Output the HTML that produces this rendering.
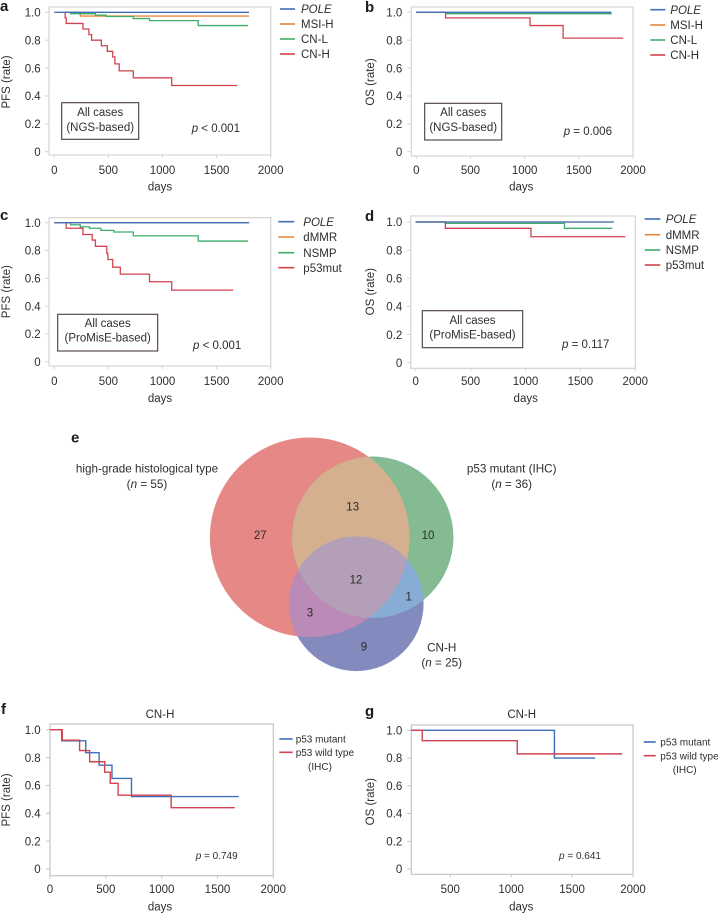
<!DOCTYPE html>
<html lang="en">
<head>
<meta charset="utf-8">
<title>Survival curves and Venn diagram</title>
<style>
html,body{margin:0;padding:0;background:#fff;}
svg{display:block;font-family:"Liberation Sans",Arial,sans-serif;}
</style>
</head>
<body>
<svg id="figure" xmlns="http://www.w3.org/2000/svg" width="718" height="914" viewBox="0 0 718 914">
  <defs id="venn-defs"></defs>
  <g id="panel-a"></g>
  <g id="panel-b"></g>
  <g id="panel-c"></g>
  <g id="panel-d"></g>
  <g id="panel-e"></g>
  <g id="panel-f"></g>
  <g id="panel-g"></g>
</svg>
<script>
// ---- Data: days at which the curve changes (last = end of follow-up), rate after each change ----
const aPoleDays = [0, 1800];
const aPoleRate = [1, 1];
const aMsiDays = [100, 240, 1800];
const aMsiRate = [1, 0.973, 0.973];
const aCnlDays = [100, 150, 380, 480, 730, 880, 1330, 1790];
const aCnlRate = [1, 0.99, 0.98, 0.97, 0.955, 0.94, 0.905, 0.905];
const aCnhDays = [90, 100, 110, 265, 320, 345, 435, 490, 540, 560, 600, 730, 1085, 1690];
const aCnhRate = [1, 0.96, 0.92, 0.88, 0.84, 0.80, 0.76, 0.72, 0.68, 0.63, 0.58, 0.53, 0.475, 0.475];

const bPoleDays = [0, 1800];
const bPoleRate = [1, 1];
const bMsiDays = [0, 270, 1800];
const bMsiRate = [1, 0.995, 0.995];
const bCnlDays = [0, 270, 1805];
const bCnlRate = [1, 0.99, 0.99];
const bCnhDays = [0, 270, 1050, 1355, 1910];
const bCnhRate = [1, 0.96, 0.905, 0.815, 0.815];

const cPoleDays = [0, 1800];
const cPoleRate = [1, 1];
const cDmmrDays = [100, 1800];
const cDmmrRate = [1, 1];
const cNsmpDays = [100, 150, 240, 325, 430, 550, 730, 1330, 1790];
const cNsmpRate = [1, 0.985, 0.97, 0.96, 0.945, 0.933, 0.905, 0.868, 0.868];
const cP53Days = [0, 110, 265, 350, 380, 485, 495, 540, 610, 880, 1085, 1655];
const cP53Rate = [1, 0.96, 0.915, 0.875, 0.83, 0.78, 0.735, 0.68, 0.63, 0.575, 0.515, 0.515];

const dPoleDays = [0, 1805];
const dPoleRate = [1, 1];
const dDmmrDays = [0, 1800];
const dDmmrRate = [1, 1];
const dNsmpDays = [0, 270, 1355, 1790];
const dNsmpRate = [1, 0.99, 0.955, 0.955];
const dP53Days = [0, 270, 1050, 1910];
const dP53Rate = [1, 0.955, 0.895, 0.895];

const fMutantDays = [0, 105, 320, 440, 555, 730, 1690];
const fMutantRate = [1, 0.92, 0.835, 0.745, 0.65, 0.52, 0.52];
const fWildDays = [0, 110, 265, 355, 490, 540, 610, 1085, 1655];
const fWildRate = [1, 0.925, 0.85, 0.77, 0.695, 0.615, 0.53, 0.44, 0.44];

const gMutantDays = [180, 1355, 1690];
const gMutantRate = [1, 0.80, 0.80];
const gWildDays = [180, 270, 1050, 1910];
const gWildRate = [1, 0.925, 0.83, 0.83];

const xTickLabels = [0, 500, 1000, 1500, 2000];
const gXTickLabels = [500, 1000, 1500, 2000];
const yTickLabels = ['0', '0.2', '0.4', '0.6', '0.8', '1.0'];

const vennSetNames = ['high-grade histological type', 'p53 mutant (IHC)', 'CN-H'];
const vennSetSizes = [55, 36, 25];
const vennRegionCounts = [27, 13, 10, 12, 1, 3, 9];

// ---- Colours ----
const BLUE = '#3f6fbb', ORANGE = '#e0893f', GREEN = '#3fae6a', RED = '#d2434f';
const INK = '#2e2e2e';

// ---- Helpers ----
const NS = 'http://www.w3.org/2000/svg';
function svgEl(parent, tag, attrs) {
  const el = document.createElementNS(NS, tag);
  for (const k in attrs) el.setAttribute(k, attrs[k]);
  parent.appendChild(el);
  return el;
}
function txt(parent, x, y, str, size, anchor, extra) {
  const el = svgEl(parent, 'text', Object.assign({x: x, y: y, 'font-size': size, 'text-anchor': anchor || 'start', fill: INK}, extra || {}));
  el.textContent = str;
  return el;
}
function pLabel(parent, x, y, rest, size) {
  const el = svgEl(parent, 'text', {x: x, y: y, 'font-size': size, fill: INK});
  const it = svgEl(el, 'tspan', {'font-style': 'italic'});
  it.textContent = 'p';
  const plain = svgEl(el, 'tspan', {});
  plain.textContent = rest;
  return el;
}
function nLabel(parent, cx, y, value, size) {
  const el = svgEl(parent, 'text', {x: cx, y: y, 'font-size': size, 'text-anchor': 'middle', fill: INK});
  const a = svgEl(el, 'tspan', {}); a.textContent = '(';
  const b = svgEl(el, 'tspan', {'font-style': 'italic'}); b.textContent = 'n';
  const c = svgEl(el, 'tspan', {}); c.textContent = ' = ' + value + ')';
  return el;
}
function stepPath(days, rates, sx, sy) {
  let d = 'M' + sx(days[0]).toFixed(2) + ' ' + sy(rates[0]).toFixed(2);
  for (let i = 1; i < days.length; i++) {
    d += 'H' + sx(days[i]).toFixed(2);
    d += 'V' + sy(rates[i]).toFixed(2);
  }
  return d;
}

// ---- KM panel ----
function drawPanel(cfg) {
  const g = document.getElementById(cfg.id);
  const sx = function (v) { return cfg.x0 + (v - cfg.dMin) * (cfg.x1 - cfg.x0) / (2000 - cfg.dMin); };
  const sy = function (v) { return cfg.y0 + v * (cfg.y1 - cfg.y0); };

  const letter = txt(g, cfg.letterX, cfg.letterY, cfg.letter, 15, 'start', {'font-weight': 'bold', fill: '#1a1a1a'});
  
  

  const frame = svgEl(g, 'rect', {x: cfg.left, y: cfg.top, width: cfg.right - cfg.left, height: cfg.bottom - cfg.top, fill: 'none', stroke: cfg.frameColor, 'stroke-width': 1.2});
  
  

  cfg.xTicks.forEach(function (t) {
    const tick = svgEl(g, 'line', {x1: sx(t), x2: sx(t), y1: cfg.bottom, y2: cfg.bottom + 3, stroke: cfg.frameColor, 'stroke-width': 1});
    
    
    const lab = txt(g, sx(t), cfg.xLabY, String(t), 11.5, 'middle');
    
    
  });
  yTickLabels.forEach(function (t) {
    const v = parseFloat(t);
    const tick = svgEl(g, 'line', {x1: cfg.left - 4, x2: cfg.left, y1: sy(v), y2: sy(v), stroke: cfg.frameColor, 'stroke-width': 1});
    
    
    const lab = txt(g, cfg.yLabX, sy(v) + 4.2, t, 11.5, 'end');
    
    
  });

  const xt = txt(g, cfg.xTitleX, cfg.xTitleY, 'days', 11.5, 'middle');
  
  
  const yt = txt(g, 0, 0, cfg.yTitle, 11.5, 'middle', {transform: 'translate(' + (cfg.yTitleX + 4) + ',' + cfg.yTitleY + ') rotate(-90)'});
  
  

  if (cfg.title) {
    const title = txt(g, cfg.titleX, 718, cfg.title, 11.5, 'middle');
    
    
  }

  cfg.series.forEach(function (s) {
    const line = svgEl(g, 'path', {d: stepPath(s.days, s.rates, sx, sy), fill: 'none', stroke: s.color, 'stroke-width': s.width || 1.3});
    
    
  });

  cfg.legend.forEach(function (s, i) {
    const ly = cfg.legY[i];
    const swatch = svgEl(g, 'line', {x1: cfg.legX0, x2: cfg.legX1, y1: ly, y2: ly, stroke: s.color, 'stroke-width': 1.6});
    
    
    const lab = txt(g, cfg.legTextX, ly + cfg.legSize * 0.36, s.label, cfg.legSize, 'start', s.italic ? {'font-style': 'italic'} : {});
    
    
  });
  if (cfg.legNote) {
    const note = txt(g, cfg.legNote[0], cfg.legNote[1], '(IHC)', cfg.legSize, 'middle');
    
    
  }

  if (cfg.box) {
    const b = cfg.box;
    const box = svgEl(g, 'rect', {x: b.l, y: b.t, width: b.r - b.l, height: b.b - b.t, fill: '#fff', stroke: '#4a3b3b', 'stroke-width': 1.1});
    
    
    const c = (b.l + b.r) / 2;
    const t1 = txt(g, c, b.t1, 'All cases', 11.5, 'middle');
    
    
    const t2 = txt(g, c, b.t2, b.text, 11.5, 'middle');
    
    
  }
  const p = pLabel(g, cfg.pX, cfg.pY, cfg.pText, cfg.pSize);
  
  
}

function four(aD, aR, aC, aK, bD, bR, bC, bK, cD, cR, cC, cK, dD, dR, dC, dK) {
  return [
    {key: aK, days: aD, rates: aR, color: aC},
    {key: bK, days: bD, rates: bR, color: bC},
    {key: cK, days: cD, rates: cR, color: cC},
    {key: dK, days: dD, rates: dR, color: dC}
  ];
}

const ngsLegend = [
  {label: 'POLE', color: BLUE, italic: true},
  {label: 'MSI-H', color: ORANGE},
  {label: 'CN-L', color: GREEN},
  {label: 'CN-H', color: RED}
];
const promiseLegend = [
  {label: 'POLE', color: BLUE, italic: true},
  {label: 'dMMR', color: ORANGE},
  {label: 'NSMP', color: GREEN},
  {label: 'p53mut', color: RED}
];
const cnhLegend = [
  {label: 'p53 mutant', color: BLUE},
  {label: 'p53 wild type', color: RED}
];

drawPanel({
  id: 'panel-a', letter: 'a', letterX: 0, letterY: 11, dMin: 0,
  left: 49, right: 270.7, top: 7, bottom: 155, x0: 54.3, x1: 270.7, y0: 151.7, y1: 12.3,
  xTicks: xTickLabels, xLabY: 174, yLabX: 40.7, xTitleX: 160, xTitleY: 190.7, yTitle: 'PFS (rate)', yTitleX: 6, yTitleY: 82,
  frameColor: '#d4d4d4',
  series: four(aMsiDays, aMsiRate, ORANGE, 'msi-h', aCnlDays, aCnlRate, GREEN, 'cn-l', aCnhDays, aCnhRate, RED, 'cn-h', aPoleDays, aPoleRate, BLUE, 'pole'),
  legend: ngsLegend, legY: [9, 24, 39, 54], legX0: 280, legX1: 295, legTextX: 301, legSize: 11.5,
  box: {l: 61.7, r: 138.7, t: 102.7, b: 139.3, t1: 116, t2: 131, text: '(NGS-based)'},
  pX: 191.7, pY: 132, pText: ' < 0.001', pSize: 11.5
});
drawPanel({
  id: 'panel-b', letter: 'b', letterX: 365, letterY: 12, dMin: 0,
  left: 411.3, right: 633, top: 7, bottom: 156, x0: 416.3, x1: 633, y0: 151.7, y1: 12.3,
  xTicks: xTickLabels, xLabY: 174, yLabX: 402.3, xTitleX: 521.3, xTitleY: 190.7, yTitle: 'OS (rate)', yTitleX: 370, yTitleY: 82,
  frameColor: '#d4d4d4',
  series: four(bMsiDays, bMsiRate, ORANGE, 'msi-h', bCnlDays, bCnlRate, GREEN, 'cn-l', bCnhDays, bCnhRate, RED, 'cn-h', bPoleDays, bPoleRate, BLUE, 'pole'),
  legend: ngsLegend, legY: [9.7, 25, 40, 55], legX0: 650.3, legX1: 665.3, legTextX: 670.3, legSize: 11.5,
  box: {l: 424.7, r: 501.7, t: 103.3, b: 140, t1: 116, t2: 131, text: '(NGS-based)'},
  pX: 563.7, pY: 135, pText: ' = 0.006', pSize: 11.5
});
drawPanel({
  id: 'panel-c', letter: 'c', letterX: 0, letterY: 220, dMin: 0,
  left: 49, right: 270.7, top: 217.7, bottom: 366, x0: 54.3, x1: 270.7, y0: 361.7, y1: 222.7,
  xTicks: xTickLabels, xLabY: 385, yLabX: 40.7, xTitleX: 160, xTitleY: 402, yTitle: 'PFS (rate)', yTitleX: 6, yTitleY: 291.7,
  frameColor: '#d4d4d4',
  series: four(cDmmrDays, cDmmrRate, ORANGE, 'dmmr', cNsmpDays, cNsmpRate, GREEN, 'nsmp', cP53Days, cP53Rate, RED, 'p53mut', cPoleDays, cPoleRate, BLUE, 'pole'),
  legend: promiseLegend, legY: [221.7, 237, 252.7, 267.7], legX0: 278.3, legX1: 294.3, legTextX: 303.3, legSize: 11.5,
  box: {l: 57.7, r: 157.7, t: 314.3, b: 351, t1: 326.8, t2: 341.5, text: '(ProMisE-based)'},
  pX: 193, pY: 349, pText: ' < 0.001', pSize: 11.5
});
drawPanel({
  id: 'panel-d', letter: 'd', letterX: 365, letterY: 221, dMin: 0,
  left: 410.7, right: 635.3, top: 216, bottom: 368.3, x0: 415.7, x1: 635.3, y0: 362.7, y1: 222,
  xTicks: xTickLabels, xLabY: 385, yLabX: 402.3, xTitleX: 525.7, xTitleY: 402, yTitle: 'OS (rate)', yTitleX: 370, yTitleY: 291.7,
  frameColor: '#d4d4d4',
  series: four(dDmmrDays, dDmmrRate, ORANGE, 'dmmr', dNsmpDays, dNsmpRate, GREEN, 'nsmp', dP53Days, dP53Rate, RED, 'p53mut', dPoleDays, dPoleRate, BLUE, 'pole'),
  legend: promiseLegend, legY: [219, 234.7, 250, 265], legX0: 644.7, legX1: 660.3, legTextX: 665.7, legSize: 11.5,
  box: {l: 422.3, r: 522.7, t: 310.7, b: 347.7, t1: 324, t2: 338.5, text: '(ProMisE-based)'},
  pX: 562, pY: 348, pText: ' = 0.117', pSize: 11.5
});
drawPanel({
  id: 'panel-f', letter: 'f', letterX: 1, letterY: 714, dMin: 0, title: 'CN-H', titleX: 160,
  left: 50, right: 273.3, top: 724, bottom: 875.7, x0: 50, x1: 273.3, y0: 869, y1: 729.7,
  xTicks: xTickLabels, xLabY: 893, yLabX: 40.7, xTitleX: 160, xTitleY: 910.7, yTitle: 'PFS (rate)', yTitleX: 6, yTitleY: 800,
  frameColor: '#c4c4c4',
  series: [
    {key: 'p53-mutant', days: fMutantDays, rates: fMutantRate, color: BLUE, width: 1.4},
    {key: 'p53-wild-type', days: fWildDays, rates: fWildRate, color: RED, width: 1.4}
  ],
  legend: cnhLegend, legY: [739, 752.3], legX0: 279.3, legX1: 292.7, legTextX: 295.7, legSize: 10,
  legNote: [320, 770.2],
  pX: 195.7, pY: 859, pText: ' = 0.749', pSize: 10
});
drawPanel({
  id: 'panel-g', letter: 'g', letterX: 365, letterY: 716, dMin: 180, title: 'CN-H', titleX: 521.7,
  left: 411.3, right: 633, top: 725, bottom: 874.3, x0: 411.3, x1: 633, y0: 869, y1: 730.3,
  xTicks: gXTickLabels, xLabY: 893, yLabX: 402.3, xTitleX: 521.3, xTitleY: 910.7, yTitle: 'OS (rate)', yTitleX: 370, yTitleY: 801.7,
  frameColor: '#c4c4c4',
  series: [
    {key: 'p53-mutant', days: gMutantDays, rates: gMutantRate, color: BLUE, width: 1.4},
    {key: 'p53-wild-type', days: gWildDays, rates: gWildRate, color: RED, width: 1.4}
  ],
  legend: cnhLegend, legY: [742, 755.7], legX0: 643.7, legX1: 655.7, legTextX: 660.3, legSize: 10,
  legNote: [684.7, 773.2],
  pX: 559, pY: 859, pText: ' = 0.641', pSize: 10
});

// ---- Venn: circle area is proportional to the set size ----
function drawVenn() {
  const g = document.getElementById('panel-e');
  const defs = document.getElementById('venn-defs');
  const radiusPerRoot = 99.8 / Math.sqrt(55);
  const centres = [[309.7, 537.3], [372.7, 537.3], [356.3, 603.8]];
  const fills = ['#e58886', '#85bb93', '#838abe'];
  const circles = centres.map(function (c, i) {
    return {cx: c[0], cy: c[1], r: radiusPerRoot * Math.sqrt(vennSetSizes[i])};
  });

  const letter = txt(g, 71, 442.7, 'e', 15, 'start', {'font-weight': 'bold', fill: '#1a1a1a'});
  
  

  circles.forEach(function (c, i) {
    const cp = svgEl(defs, 'clipPath', {id: 'venn-clip-' + i});
    svgEl(cp, 'circle', c);
    const el = svgEl(g, 'circle', Object.assign({fill: fills[i]}, c));
    
    
  });
  const overlapDefs = [[0, 1, '#d4b08f'], [0, 2, '#bb8ab7'], [1, 2, '#87add5']];
  overlapDefs.forEach(function (o) {
    const wrap = svgEl(g, 'g', {'clip-path': 'url(#venn-clip-' + o[0] + ')'});
    const el = svgEl(wrap, 'circle', Object.assign({fill: o[2]}, circles[o[1]]));
    
    
  });
  const outer = svgEl(g, 'g', {'clip-path': 'url(#venn-clip-0)'});
  const inner = svgEl(outer, 'g', {'clip-path': 'url(#venn-clip-1)'});
  const core = svgEl(inner, 'circle', Object.assign({fill: '#b39fb7'}, circles[2]));
  
  

  const countSpots = [[260.3, 535], [352.7, 506.7], [428, 535], [356, 579.3], [408.7, 596.7], [310, 612.3], [364, 646.7]];
  vennRegionCounts.forEach(function (n, i) {
    const lab = txt(g, countSpots[i][0], countSpots[i][1] + 4, String(n), 11.5, 'middle', {fill: '#2b2b2b'});
    
    
  });

  const labelSpots = [[147, 472.7, 488], [511.7, 472.7, 488], [441.7, 651.7, 666.7]];
  vennSetNames.forEach(function (name, i) {
    const lab = txt(g, labelSpots[i][0], labelSpots[i][1], name, 11.7, 'middle');
    
    
    const nl = nLabel(g, labelSpots[i][0], labelSpots[i][2], vennSetSizes[i], 11.7);
    
    
  });
}
drawVenn();
</script>
</body>
</html>
